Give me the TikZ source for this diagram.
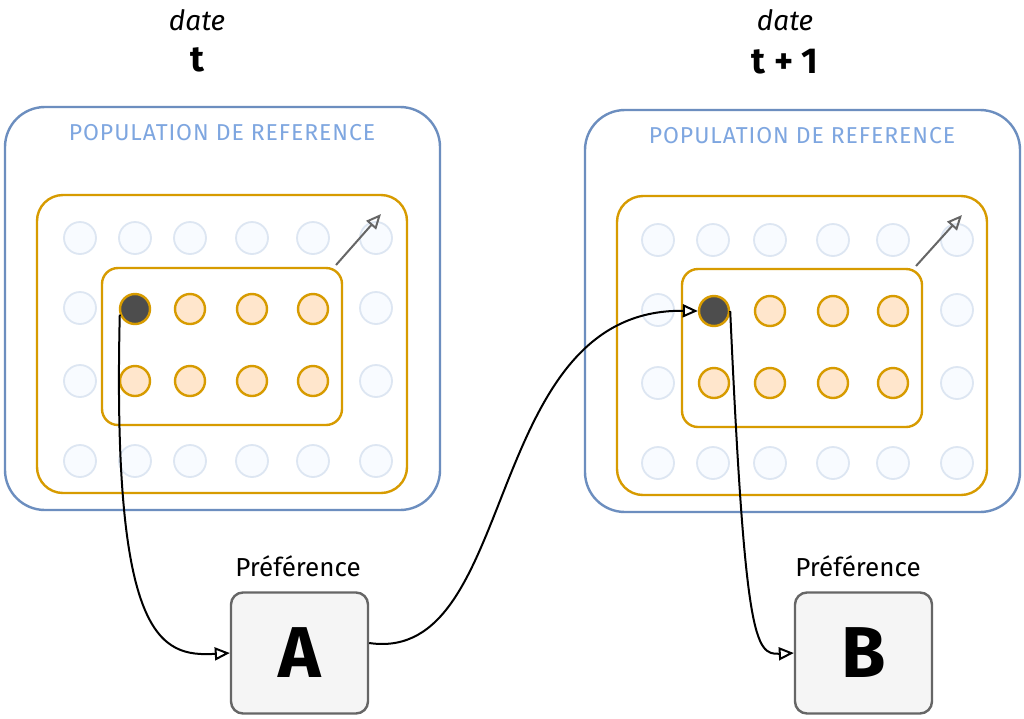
\documentclass[tikz,border=0pt]{standalone}
\usepackage{fontspec}
\setmainfont{Fira Sans}
\usetikzlibrary{arrows.meta}
\definecolor{bluestroke}{HTML}{6C8EBF}
\definecolor{bluetext}{HTML}{7EA6E0}
\definecolor{orstroke}{HTML}{D79B00}
\definecolor{orfill}{HTML}{FFE6CC}
\definecolor{faintstroke}{HTML}{DDE6F2}
\definecolor{faintfill}{HTML}{F8FBFF}
\definecolor{darkdot}{HTML}{4D4D4D}
\definecolor{boxfill}{HTML}{F5F5F5}
\definecolor{boxstroke}{HTML}{666666}
\tikzset{
  popbox/.style={draw=bluestroke, line width=2.4pt, rounded corners=40pt},
  groupbox/.style={draw=orstroke, line width=2.4pt, rounded corners=26pt},
  subbox/.style={draw=orstroke, line width=2.4pt, rounded corners=16pt},
  faintdot/.style={circle, draw=faintstroke, fill=faintfill, line width=1.8pt, minimum size=32pt, inner sep=0pt},
  ordot/.style={circle, draw=orstroke, fill=orfill, line width=2.4pt, minimum size=30pt, inner sep=0pt},
  blackdot/.style={circle, draw=orstroke, fill=darkdot, line width=2.4pt, minimum size=30pt, inner sep=0pt},
  prefbox/.style={draw=boxstroke, fill=boxfill, line width=2.4pt, rounded corners=12pt, minimum width=137pt, minimum height=121pt, font=\fontsize{72}{72}\selectfont\bfseries},
  lbl/.style={font=\fontsize{26}{28}\selectfont},
  datelbl/.style={font=\fontsize{28}{30}\selectfont\itshape},
  timelbl/.style={font=\fontsize{36}{38}\selectfont\bfseries},
  poplbl/.style={text=bluetext, font=\fontsize{23}{25}\selectfont\addfontfeatures{LetterSpace=4}},
  link/.style={black, line width=2pt, -{Triangle[open, length=15pt, width=13pt, line width=2pt]}},
  growarrow/.style={boxstroke, line width=2pt, -{Triangle[open, length=15pt, width=13pt, line width=2pt]}}
}
\begin{document}
\begin{tikzpicture}[x=1pt,y=-1pt]
\useasboundingbox (0,0) rectangle (1024,718);
\fill[white] (0,0) rectangle (1024,718);

% ---------- left panel ----------
\node[datelbl] (dateL) at (197,20) {date};
\node[timelbl] (timeL) at (197,60) {t};
\draw[popbox] (5,107) rectangle (440,510);
\node[poplbl] (popL) at (222,133) {POPULATION DE REFERENCE};
\draw[groupbox] (37,195) rectangle (407,493);
\foreach \c/\x in {1/80,2/135,3/190,4/252,5/313,6/376}{
  \node[faintdot] (fL1\c) at (\x,238) {};
  \node[faintdot] (fL4\c) at (\x,461) {};
}
\foreach \r/\y in {2/308,3/381}{
  \node[faintdot] (fL\r1) at (80,\y) {};
  \node[faintdot] (fL\r6) at (376,\y) {};
}
\draw[subbox] (102,268) rectangle (342,425);
\node[blackdot] (dL) at (135,309) {};
\foreach \c/\x in {2/190,3/252,4/313}{\node[ordot] (oL2\c) at (\x,309) {};}
\foreach \c/\x in {1/135,2/190,3/252,4/313}{\node[ordot] (oL3\c) at (\x,381) {};}
\coordinate (gL0) at (336,265);
\coordinate (gL1) at (381,214);
\draw[growarrow] (gL0) -- (gL1);
\node[lbl] (prefA) at (298,566) {Préférence};
\node[prefbox] (A) at (299.5,653) {A};

% ---------- right panel ----------
\node[datelbl] (dateR) at (785,20) {date};
\node[timelbl] (timeR) at (785,62) {t + 1};
\draw[popbox] (585,110) rectangle (1020,512);
\node[poplbl] (popR) at (802,136) {POPULATION DE REFERENCE};
\draw[groupbox] (617,196) rectangle (987,495);
\foreach \c/\x in {1/658,2/713,3/770,4/833,5/893,6/957}{
  \node[faintdot] (fR1\c) at (\x,240) {};
  \node[faintdot] (fR4\c) at (\x,463) {};
}
\foreach \r/\y in {2/310,3/383}{
  \node[faintdot] (fR\r1) at (658,\y) {};
  \node[faintdot] (fR\r6) at (957,\y) {};
}
\draw[subbox] (682,269) rectangle (922,427);
\node[blackdot] (dR) at (714,311) {};
\foreach \c/\x in {2/770,3/833,4/893}{\node[ordot] (oR2\c) at (\x,311) {};}
\foreach \c/\x in {1/714,2/770,3/833,4/893}{\node[ordot] (oR3\c) at (\x,383) {};}
\coordinate (gR0) at (916,266);
\coordinate (gR1) at (962,215);
\draw[growarrow] (gR0) -- (gR1);
\node[lbl] (prefB) at (858,566) {Préférence};
\node[prefbox] (B) at (863.5,653) {B};

% ---------- connectors ----------
\draw[link] (dL.200) .. controls (112,640) and (160,657) .. (A.west);
\draw[link] ([yshift=10pt]A.east) .. controls (520,665) and (480,308) .. (dR.west);
\draw[link] (dR.east) .. controls (745,640) and (755,655) .. (B.west);
\end{tikzpicture}
\end{document}
